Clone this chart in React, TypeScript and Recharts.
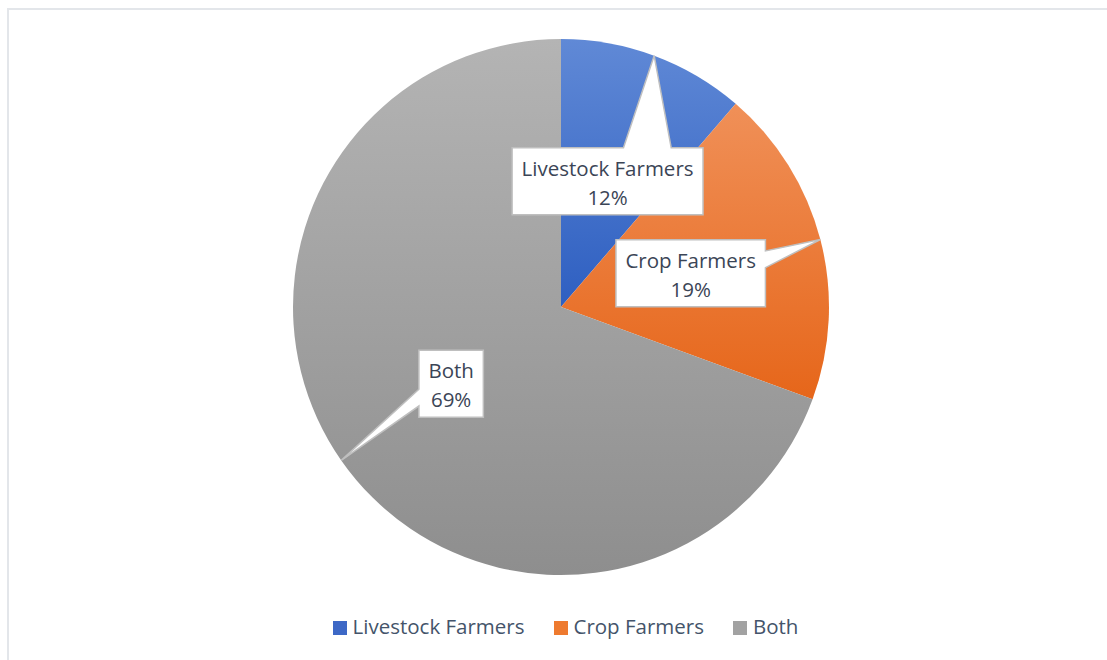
import React from 'react';
import { PieChart, Pie, Cell, Legend } from 'recharts';

const categories = ['Livestock Farmers', 'Crop Farmers', 'Both'];
const shares = [11.3, 19.3, 69.4];
// percentages printed in the callouts
const labelPercents = ['12%', '19%', '69%'];

const topColors = ['#6089d6', '#f09058', '#b4b4b4'];
const bottomColors = ['#2e5fc1', '#e6661a', '#8e8e8e'];
const legendColors = ['#3d68c6', '#ee7a2f', '#a2a2a2'];

const data = categories.map((name, i) => ({ name, value: shares[i] }));

const FONT = '"Open Sans", sans-serif';
const FONT_SIZE = 20.5;
const RAD = Math.PI / 180;

let ctx: CanvasRenderingContext2D | null = null;
const measure = (s: string) => {
  if (!ctx) ctx = document.createElement('canvas').getContext('2d');
  if (!ctx) return s.length * FONT_SIZE * 0.5;
  ctx.font = `${FONT_SIZE}px "Open Sans"`;
  return ctx.measureText(s).width;
};

// rectangle callout with a wedge pointing at (tx, ty), like Office's wedgeRectCallout
function calloutPath(x: number, y: number, w: number, h: number, tx: number, ty: number) {
  const dx = tx - (x + w / 2);
  const dy = ty - (y + h / 2);
  const vertical = Math.abs(dy) - (Math.abs(dx) * h) / w > 0;
  const r = x + w;
  const b = y + h;
  const pts: number[][] = [[x, y]];
  if (vertical && dy < 0) {
    const a = dx > 0 ? 7 : 2;
    pts.push([x + (w * a) / 12, y], [tx, ty], [x + (w * (a + 3)) / 12, y]);
  }
  pts.push([r, y]);
  if (!vertical && dx > 0) {
    const a = dy > 0 ? 7 : 2;
    pts.push([r, y + (h * a) / 12], [tx, ty], [r, y + (h * (a + 3)) / 12]);
  }
  pts.push([r, b]);
  if (vertical && dy > 0) {
    const a = dx > 0 ? 7 : 2;
    pts.push([x + (w * (a + 3)) / 12, b], [tx, ty], [x + (w * a) / 12, b]);
  }
  pts.push([x, b]);
  if (!vertical && dx < 0) {
    const a = dy > 0 ? 7 : 2;
    pts.push([x, y + (h * (a + 3)) / 12], [tx, ty], [x, y + (h * a) / 12]);
  }
  return 'M' + pts.map((p) => p.join(',')).join('L') + 'Z';
}

const renderCallout = (props: any) => {
  const { cx, cy, midAngle, outerRadius, index } = props;
  const name = categories[index];
  const pct = labelPercents[index];
  const ang = -midAngle * RAD;
  const bx = cx + outerRadius * 0.5 * Math.cos(ang);
  const by = cy + outerRadius * 0.5 * Math.sin(ang);
  const tx = cx + outerRadius * Math.cos(ang);
  const ty = cy + outerRadius * Math.sin(ang);
  const w = Math.max(measure(name), measure(pct)) + 19;
  const h = 67;
  return (
    <g key={`callout-${index}`}>
      <path d={calloutPath(bx - w / 2, by - h / 2, w, h, tx, ty)} fill="#ffffff" stroke="#bfbfbf" strokeWidth={1.5} />
      <text x={bx} y={by - 5.5} textAnchor="middle" fontFamily={FONT} fontSize={FONT_SIZE} fill="#3b4556">
        {name}
      </text>
      <text x={bx} y={by + 23.5} textAnchor="middle" fontFamily={FONT} fontSize={FONT_SIZE} fill="#3b4556">
        {pct}
      </text>
    </g>
  );
};

const renderLegend = () => (
  <div
    style={{
      display: 'flex',
      justifyContent: 'center',
      alignItems: 'center',
      fontFamily: FONT,
      fontSize: FONT_SIZE,
      lineHeight: '28px',
      color: '#44546a',
    }}
  >
    {categories.map((c, i) => (
      <div key={c} style={{ display: 'flex', alignItems: 'center', marginRight: i < categories.length - 1 ? 29 : 0 }}>
        <span style={{ width: 14, height: 14, background: legendColors[i], marginRight: 6, marginTop: 3 }} />
        <span>{c}</span>
      </div>
    ))}
  </div>
);

export default function App() {
  return (
    <div style={{ position: 'absolute', left: 0, top: 0, width: 1107, height: 660, background: '#ffffff', overflow: 'hidden' }}>
      <div
        style={{
          position: 'absolute',
          left: 7,
          top: 8,
          width: 1200,
          height: 800,
          borderTop: '2px solid #e3e6ea',
          borderLeft: '2px solid #e3e6ea',
        }}
      />
      <div style={{ position: 'absolute', left: 0, top: 0 }}>
        <PieChart width={1107} height={660} margin={{ top: 0, right: 0, bottom: 0, left: 0 }}>
          <defs>
            {categories.map((c, i) => (
              <linearGradient key={c} id={`slice${i}`} x1="0" y1="0" x2="0" y2="1">
                <stop offset="0%" stopColor={topColors[i]} />
                <stop offset="100%" stopColor={bottomColors[i]} />
              </linearGradient>
            ))}
          </defs>
          <Pie
            data={data}
            dataKey="value"
            nameKey="name"
            cx={561}
            cy={307}
            outerRadius={268}
            startAngle={90}
            endAngle={-270}
            stroke="none"
            labelLine={false}
            label={renderCallout}
            isAnimationActive={false}
          >
            {data.map((d, i) => (
              <Cell key={d.name} fill={`url(#slice${i})`} />
            ))}
          </Pie>
          <Legend
            verticalAlign="bottom"
            content={renderLegend}
            wrapperStyle={{ top: 612, bottom: 'auto', left: 12, width: 1107 }}
          />
        </PieChart>
      </div>
    </div>
  );
}
